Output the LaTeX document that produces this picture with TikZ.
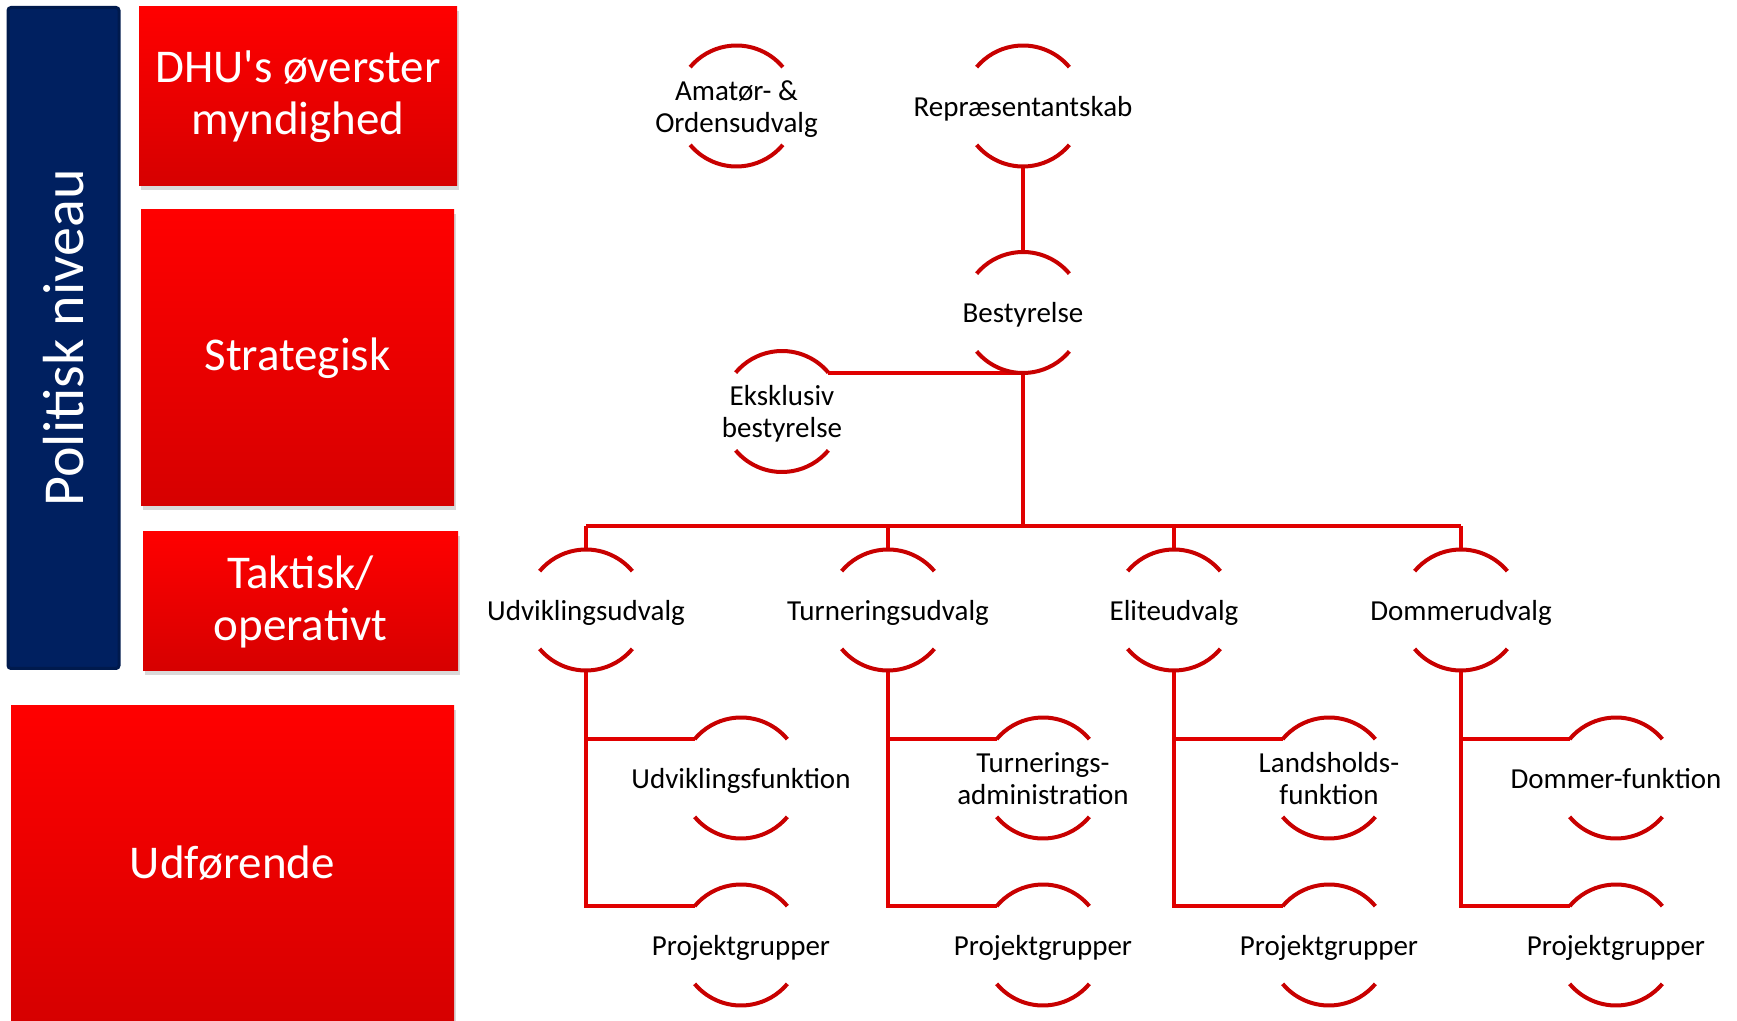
\documentclass[tikz,border=0pt]{standalone}
\usepackage{fontspec}
\setmainfont{Carlito}
\usetikzlibrary{shadows}

\definecolor{navy}{HTML}{002060}
\definecolor{navyline}{HTML}{001A4D}
\definecolor{boxtop}{HTML}{FF0000}
\definecolor{boxbot}{HTML}{D60000}
\definecolor{bowred}{HTML}{C80000}
\definecolor{linkred}{HTML}{E00000}

\newcommand{\ctr}[1]{\makebox[0pt]{\raisebox{-5.5pt}[0pt][0pt]{\begin{tabular}{@{}c@{}}#1\end{tabular}}}}

\begin{document}
\begin{tikzpicture}[x=0.5pt,y=0.5pt,
    level/.style={rectangle,top color=boxtop,bottom color=boxbot,text=white,
      font=\fontsize{23.5}{26}\selectfont,align=center,
      drop shadow={shadow xshift=1pt,shadow yshift=-2pt,opacity=0.3}},
    unit/.style={circle,minimum size=60.5pt,inner sep=0pt,outer sep=0pt,
      font=\fontsize{14.5}{16}\selectfont},
    bow/.style={draw=bowred,line width=2pt},
    link/.style={draw=linkred,line width=2pt}]
  \useasboundingbox (0,0) rectangle (1737,-1021);

  % levels
  \node[rectangle,fill=navy,draw=navyline,line width=1.5pt,rounded corners=1.5pt,
    rotate=90,minimum width=330.5pt,minimum height=55.5pt,text=white,
    font=\fontsize{29}{31}\selectfont] (pol) at (63.5,-338) {Politisk niveau};
  \node[level,minimum width=159pt,minimum height=89.5pt] (dhu) at (298,-96.5) {DHU\textquotesingle s øverster\\myndighed};
  \node[level,minimum width=156.5pt,minimum height=148pt] (strat) at (297.5,-358) {Strategisk};
  \node[level,minimum width=157.5pt,minimum height=69.5pt] (takt) at (300.5,-601.5) {Taktisk/\\operativt};
  \node[level,minimum width=221.5pt,minimum height=157.5pt] (udf) at (232.5,-863.5) {Udførende};

  % org chart
  \node[unit] (amat) at (736.5,-106) {\ctr{Amatør- \&\\Ordensudvalg}};
  \node[unit] (rep) at (1023,-106) {\ctr{Repræsentantskab}};
  \node[unit] (best) at (1023,-312.5) {\ctr{Bestyrelse}};
  \node[unit] (eks) at (782,-411.5) {\ctr{Eksklusiv\\bestyrelse}};

  \node[unit] (udv) at (586,-610) {\ctr{Udviklingsudvalg}};
  \node[unit] (turn) at (888,-610) {\ctr{Turneringsudvalg}};
  \node[unit] (elite) at (1174,-610) {\ctr{Eliteudvalg}};
  \node[unit] (domm) at (1461,-610) {\ctr{Dommerudvalg}};

  \node[unit] (udvf) at (741,-778) {\ctr{Udviklingsfunktion}};
  \node[unit] (turnf) at (1043,-778) {\ctr{Turnerings-\\administration}};
  \node[unit] (landf) at (1329,-778) {\ctr{Landsholds-\\funktion}};
  \node[unit] (dommf) at (1616,-778) {\ctr{Dommer-funktion}};

  \node[unit] (pg1) at (741,-945) {\ctr{Projektgrupper}};
  \node[unit] (pg2) at (1043,-945) {\ctr{Projektgrupper}};
  \node[unit] (pg3) at (1329,-945) {\ctr{Projektgrupper}};
  \node[unit] (pg4) at (1616,-945) {\ctr{Projektgrupper}};

  \coordinate (bus) at (0,-526);

  % connectors
  \draw[link] (rep.south) -- (best.north);
  \draw[link] (eks.40) -- (eks.40 -| best);
  \draw[link] (best.south) -- (best |- bus);
  \draw[link] (udv |- bus) -- (domm |- bus);
  \foreach \n in {udv,turn,elite,domm}
    \draw[link] (\n |- bus) -- (\n.north);
  \foreach \a/\b/\c in {udv/udvf/pg1,turn/turnf/pg2,elite/landf/pg3,domm/dommf/pg4}{
    \draw[link] (\a.south) |- (\c.140);
    \draw[link] (\a |- \b.140) -- (\b.140);
  }

  % half rings
  \foreach \n in {amat,rep,best,eks,udv,turn,elite,domm,udvf,turnf,landf,dommf,pg1,pg2,pg3,pg4}{
    \draw[bow] (\n.40) arc[start angle=40,end angle=140,radius=30.25pt];
    \draw[bow] (\n.220) arc[start angle=220,end angle=320,radius=30.25pt];
  }
\end{tikzpicture}
\end{document}
